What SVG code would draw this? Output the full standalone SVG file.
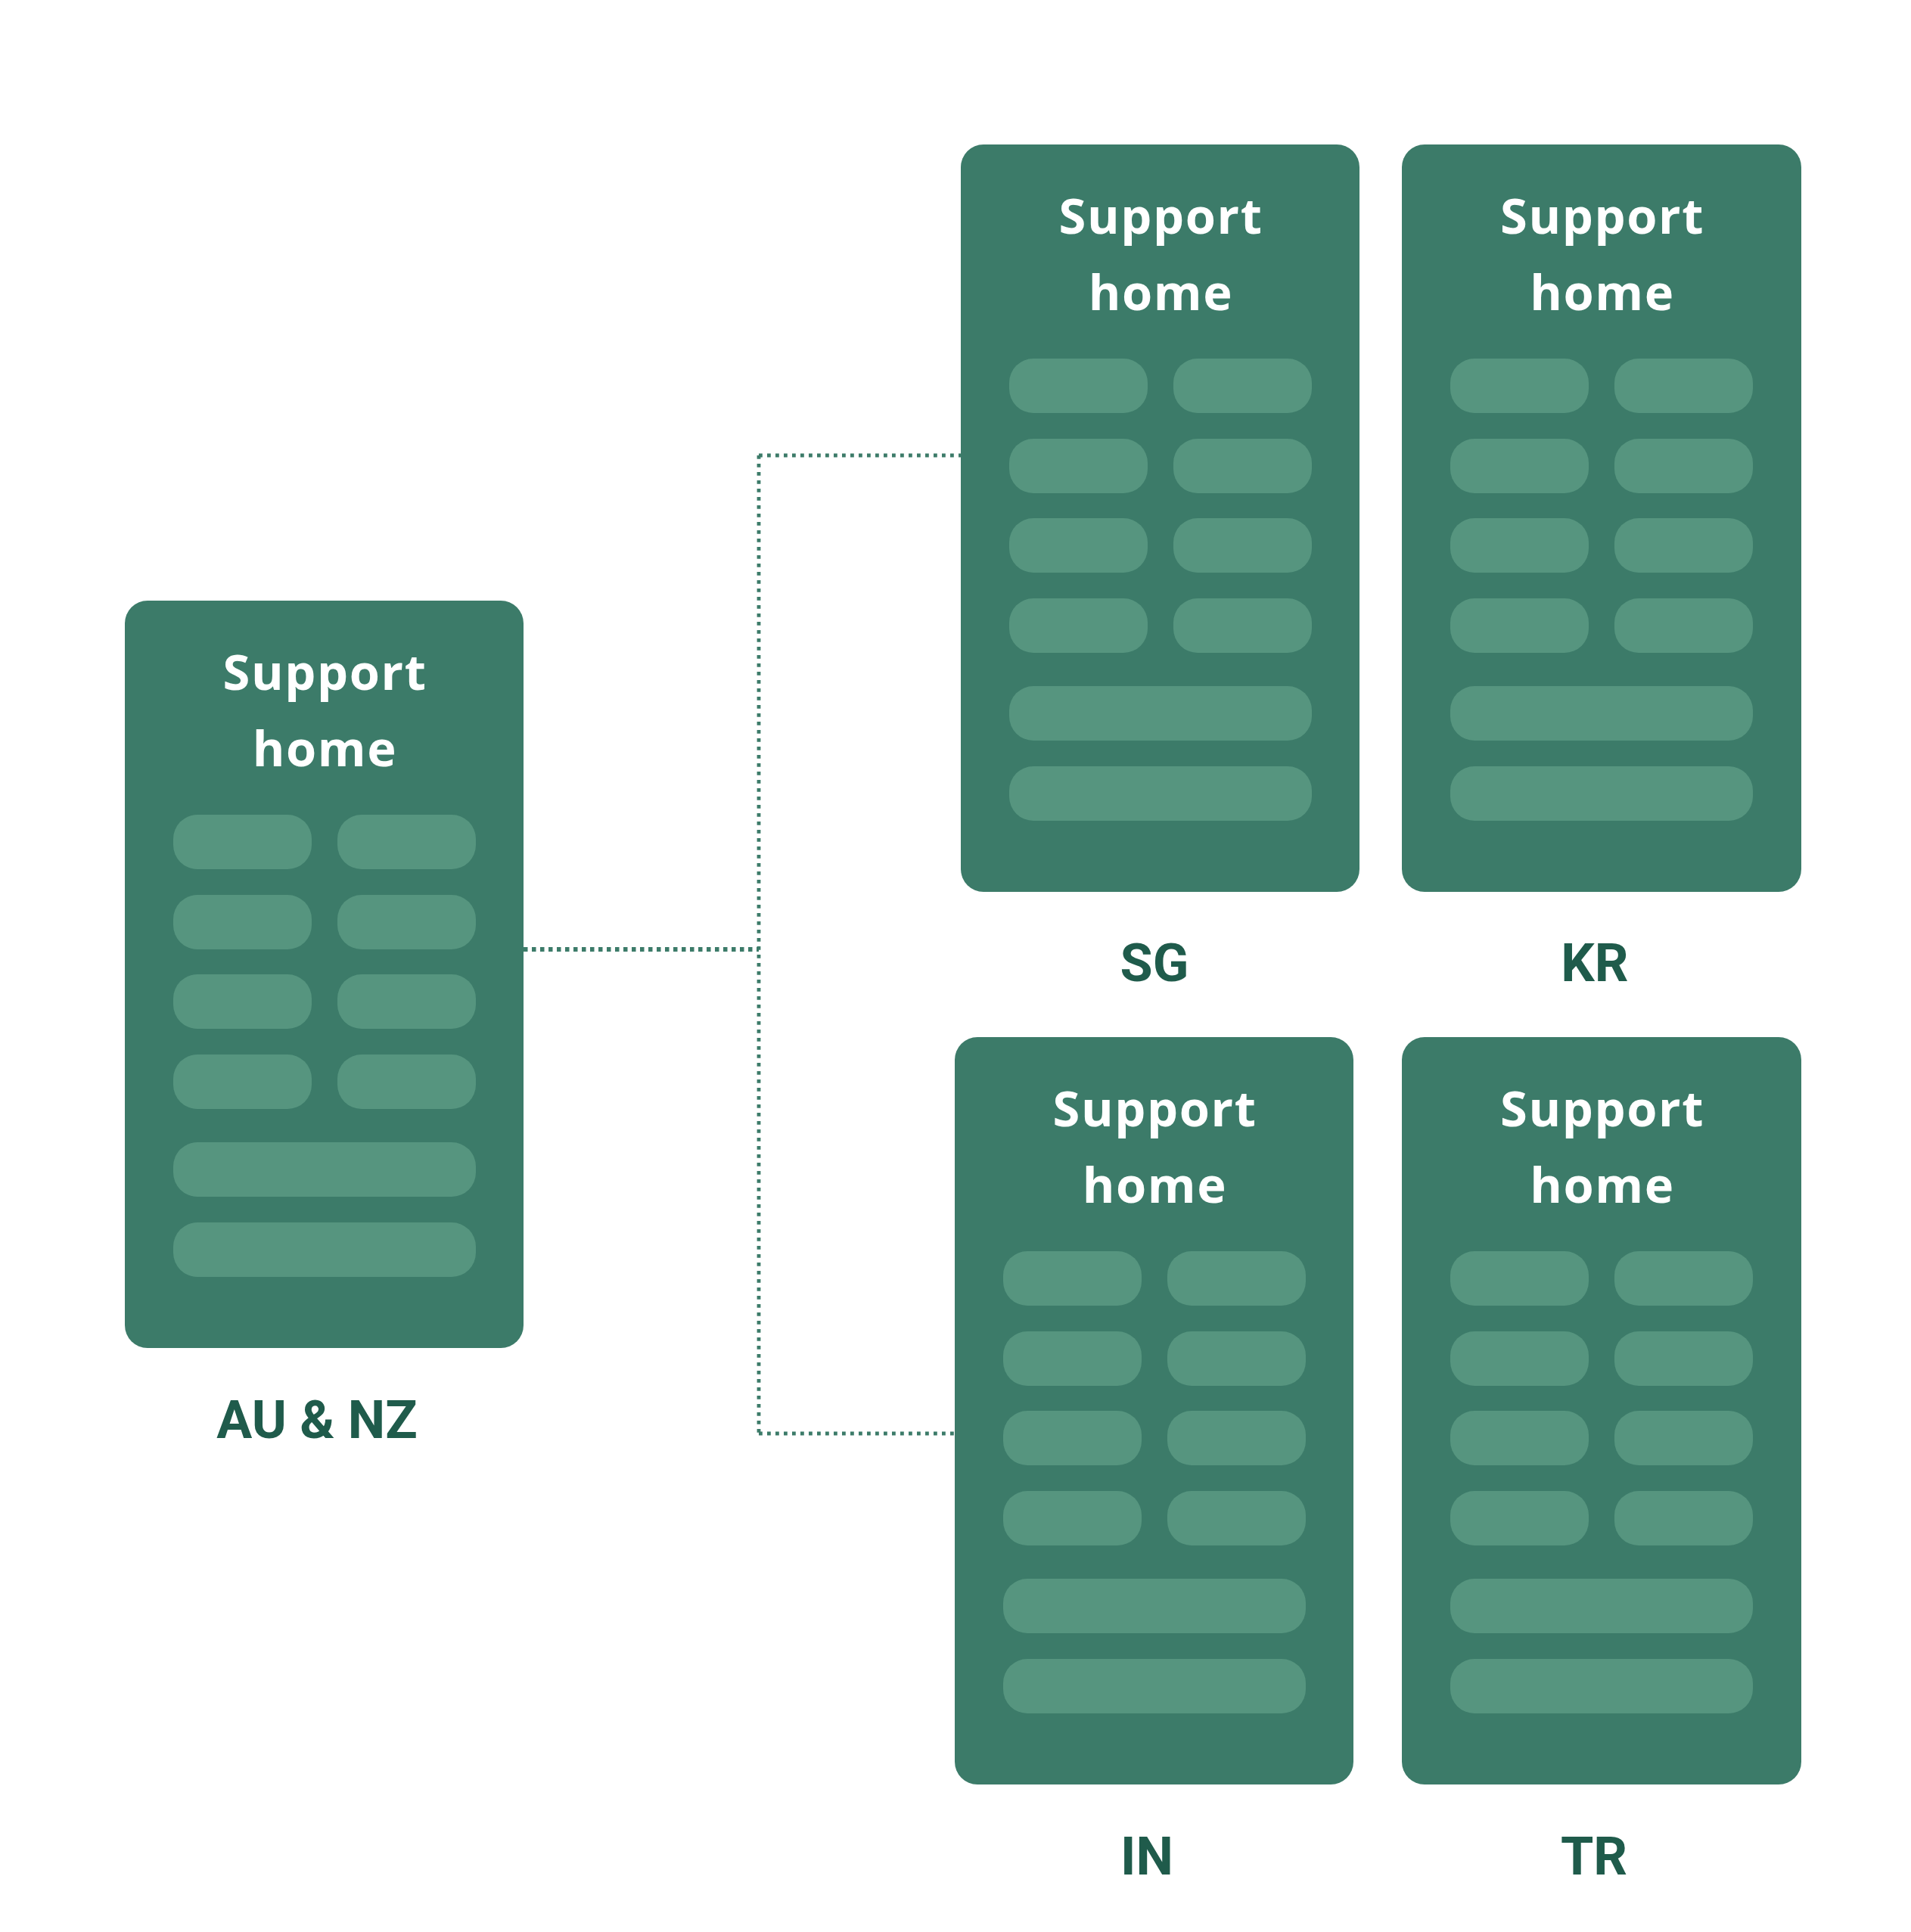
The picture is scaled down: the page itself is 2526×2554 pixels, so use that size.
<svg xmlns="http://www.w3.org/2000/svg" xmlns:xlink="http://www.w3.org/1999/xlink" width="2526" height="2554" viewBox="0 0 2526 2554">
  <style>
    .card { fill: #3c7b69; }
    .pill { fill: #56957f; }
    .title { font-family: "Open Sans", "Liberation Sans", sans-serif; font-weight: 700; font-size: 65px; letter-spacing: 1.6px; fill: #ffffff; text-anchor: middle; }
    .label { font-family: Roboto, "Liberation Sans", sans-serif; font-weight: 700; font-size: 70px; fill: #1f5b4b; text-anchor: middle; }
    .conn { fill: none; stroke: #3c7b69; stroke-width: 4.8; stroke-dasharray: 4.8 6.2; }
    .conn-main { stroke-width: 5.8; stroke-dasharray: 5.5 5.5; }
  </style>
  <defs>
    <g id="pills">
      <rect class="pill" x="64" y="283" width="183" height="72" rx="32"/>
      <rect class="pill" x="281" y="283" width="183" height="72" rx="32"/>
      <rect class="pill" x="64" y="389" width="183" height="72" rx="32"/>
      <rect class="pill" x="281" y="389" width="183" height="72" rx="32"/>
      <rect class="pill" x="64" y="494" width="183" height="72" rx="32"/>
      <rect class="pill" x="281" y="494" width="183" height="72" rx="32"/>
      <rect class="pill" x="64" y="600" width="183" height="72" rx="32"/>
      <rect class="pill" x="281" y="600" width="183" height="72" rx="32"/>
      <rect class="pill" x="64" y="716" width="400" height="72" rx="32"/>
      <rect class="pill" x="64" y="822" width="400" height="72" rx="32"/>
    </g>
  </defs>
  <rect width="2526" height="2554" fill="#ffffff"/>

  <g id="connectors">
    <path class="conn conn-main" d="M692 1255 H1003"/>
    <path class="conn" d="M1003 602 V1895"/>
    <path class="conn" d="M1003 602 H1270"/>
    <path class="conn" d="M1003 1895 H1262"/>
  </g>

  <g id="node-au-nz" transform="translate(165 794)">
    <rect class="card" width="527" height="988" rx="30"/>
    <use href="#pills" xlink:href="#pills"/>
    <text class="title" x="264.5" y="118">Support</text>
    <text class="title" x="264.5" y="219">home</text>
  </g>
  <text id="label-au-nz" class="label" x="419" y="1901">AU &amp; NZ</text>

  <g id="node-sg" transform="translate(1270 191)">
    <rect class="card" width="527" height="988" rx="30"/>
    <use href="#pills" xlink:href="#pills"/>
    <text class="title" x="264.5" y="118">Support</text>
    <text class="title" x="264.5" y="219">home</text>
  </g>
  <text id="label-sg" class="label" x="1526" y="1297">SG</text>

  <g id="node-kr" transform="translate(1853 191)">
    <rect class="card" width="528" height="988" rx="30"/>
    <use href="#pills" xlink:href="#pills"/>
    <text class="title" x="265" y="118">Support</text>
    <text class="title" x="265" y="219">home</text>
  </g>
  <text id="label-kr" class="label" x="2108" y="1297">KR</text>

  <g id="node-in" transform="translate(1262 1371)">
    <rect class="card" width="527" height="988" rx="30"/>
    <use href="#pills" xlink:href="#pills"/>
    <text class="title" x="264.5" y="118">Support</text>
    <text class="title" x="264.5" y="219">home</text>
  </g>
  <text id="label-in" class="label" x="1516" y="2478">IN</text>

  <g id="node-tr" transform="translate(1853 1371)">
    <rect class="card" width="528" height="988" rx="30"/>
    <use href="#pills" xlink:href="#pills"/>
    <text class="title" x="265" y="118">Support</text>
    <text class="title" x="265" y="219">home</text>
  </g>
  <text id="label-tr" class="label" x="2107" y="2478">TR</text>
</svg>
